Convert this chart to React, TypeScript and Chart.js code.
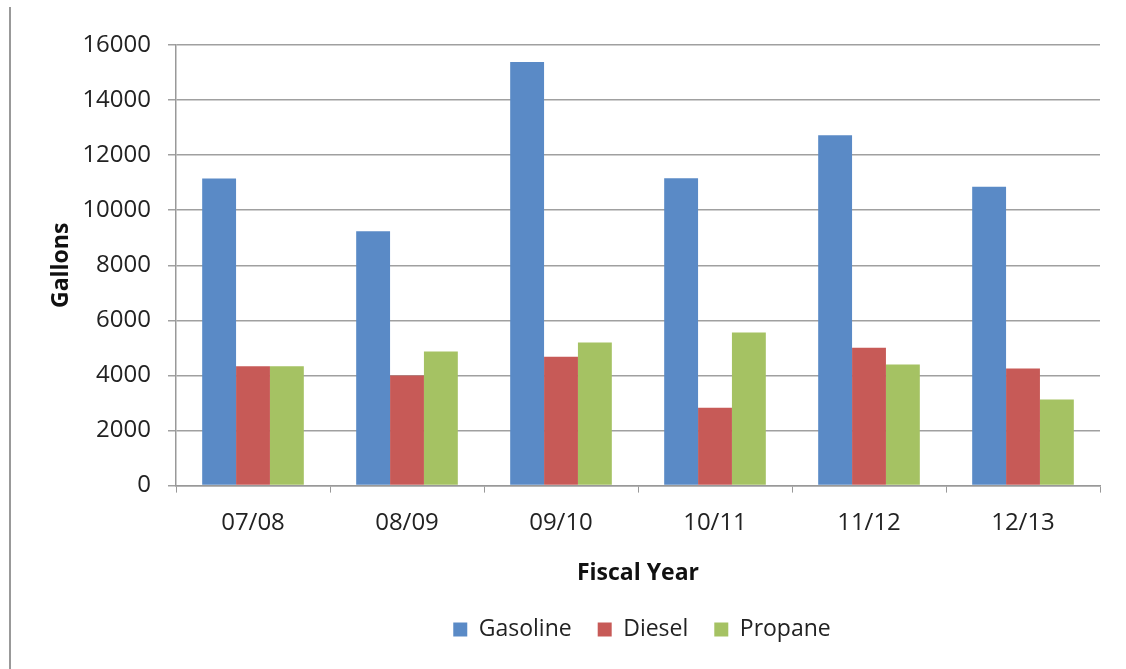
import React, { useEffect, useRef } from "react";
import { Chart, registerables } from "chart.js";

Chart.register(...registerables);

const categories = ["07/08", "08/09", "09/10", "10/11", "11/12", "12/13"];
const gasoline = [11150, 9240, 15380, 11160, 12720, 10850];
const diesel = [4330, 4000, 4680, 2830, 5010, 4250];
const propane = [4330, 4870, 5200, 5560, 4400, 3130];
const yTicks = [0, 2000, 4000, 6000, 8000, 10000, 12000, 14000, 16000];

const FONT = "'Open Sans', 'Liberation Sans', sans-serif";

const centerLegend = {
  id: "centerLegend",
  afterLayout(chart: any) {
    const lg = chart.legend;
    if (!lg) return;
    const w = lg.right - lg.left;
    const c = (chart.chartArea.left + chart.chartArea.right) / 2 + 4;
    lg.left = c - w / 2;
    lg.right = c + w / 2;
  },
};

export default function App() {
  const ref = useRef<HTMLCanvasElement | null>(null);

  useEffect(() => {
    document.body.style.margin = "0";
    const ctx = ref.current;
    if (!ctx) return;
    const chart = new Chart(ctx, {
      type: "bar",
      data: {
        labels: categories,
        datasets: [
          { label: "Gasoline", data: gasoline, backgroundColor: "#5A8AC6" },
          { label: "Diesel", data: diesel, backgroundColor: "#C75A57" },
          { label: "Propane", data: propane, backgroundColor: "#A5C263" },
        ],
      },
      plugins: [centerLegend],
      options: {
        responsive: false,
        animation: false,
        maintainAspectRatio: false,
        layout: { padding: { left: 44, right: 26, top: 45, bottom: 18 } },
        datasets: {
          bar: { categoryPercentage: 0.66, barPercentage: 1 },
        },
        plugins: {
          legend: {
            position: "bottom",
            labels: {
              color: "#222",
              font: { family: FONT, size: 23 },
              boxWidth: 14,
              boxHeight: 14,
              padding: 26,
            },
          },
          tooltip: { enabled: false },
        },
        scales: {
          x: {
            grid: {
              drawOnChartArea: false,
              drawTicks: true,
              tickLength: 7,
              color: "#999",
              offset: true,
            },
            border: { color: "#999", width: 1.5 },
            ticks: {
              color: "#222",
              font: { family: FONT, size: 24 },
              padding: 16,
            },
            title: {
              display: true,
              text: "Fiscal Year",
              color: "#111",
              font: { family: FONT, size: 23, weight: "bold" },
              padding: { top: 6, bottom: 5 },
            },
          },
          y: {
            min: 0,
            max: 16000,
            afterBuildTicks: (scale: any) => {
              scale.ticks = yTicks.map((v) => ({ value: v }));
            },
            afterFit: (scale: any) => {
              scale.width = 132;
            },
            grid: {
              color: "#A0A0A0",
              lineWidth: 1.5,
              tickLength: 8,
            },
            border: { color: "#999", width: 1.5 },
            ticks: {
              color: "#222",
              font: { family: FONT, size: 24 },
              padding: 17,
              callback: (v: any) => String(v),
            },
            title: {
              display: true,
              text: "Gallons",
              color: "#111",
              font: { family: FONT, size: 23, weight: "bold" },
            },
          },
        },
      },
    });
    return () => chart.destroy();
  }, []);

  return (
    <div style={{ position: "relative", width: 1126, height: 669, background: "#fff" }}>
      <div
        style={{
          position: "absolute",
          left: 9,
          top: 7,
          width: 2,
          height: 662,
          background: "#999",
        }}
      />
      <canvas ref={ref} width={1126} height={669} style={{ position: "absolute", left: 0, top: 0 }} />
    </div>
  );
}
